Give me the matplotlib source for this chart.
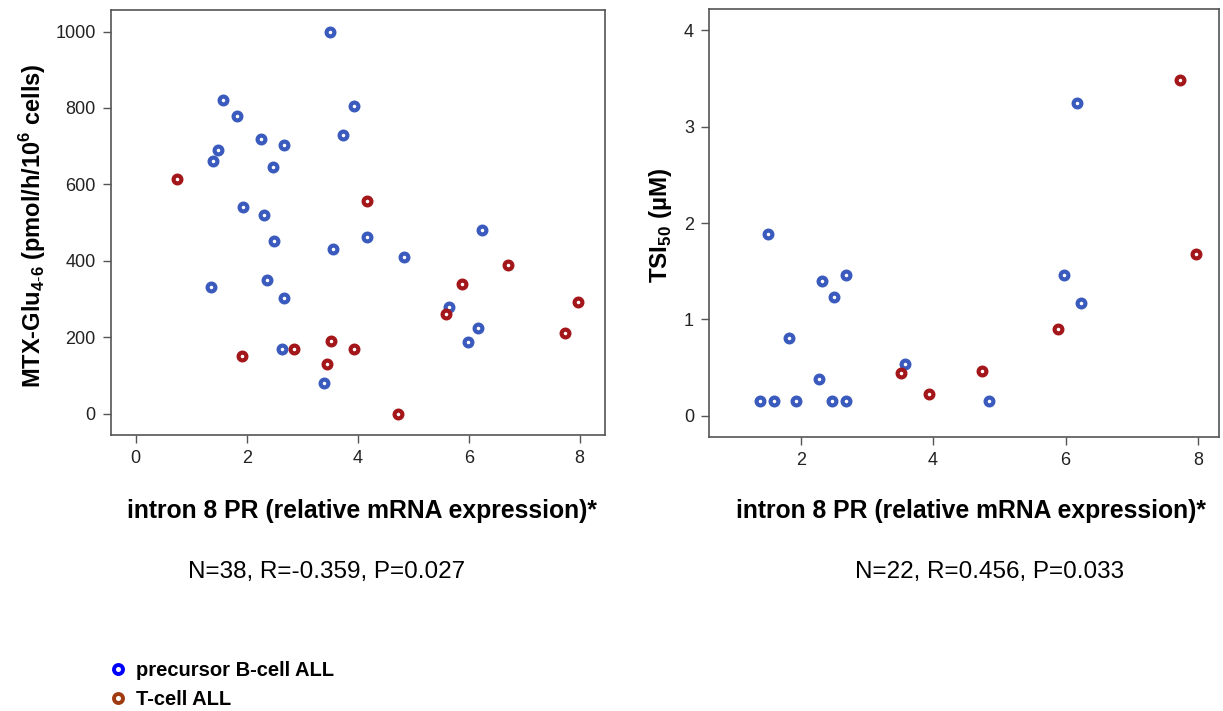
import matplotlib
matplotlib.use("Agg")
import matplotlib.pyplot as plt
from matplotlib.lines import Line2D

plt.rcParams['font.family'] = ['Liberation Sans', 'DejaVu Sans']
plt.rcParams['mathtext.fontset'] = 'custom'
plt.rcParams['mathtext.rm'] = 'Liberation Sans'
plt.rcParams['mathtext.bf'] = 'Liberation Sans:bold'

# left panel: MTX-Glu4-6 vs intron 8 PR
b_left_x = [3.50, 1.58, 3.94, 1.82, 3.74, 2.26, 2.68, 1.49, 1.39, 2.47, 1.93, 2.31, 2.50,
            4.16, 3.56, 6.24, 4.84, 1.35, 2.36, 2.68, 5.65, 6.16, 5.98, 2.63, 3.39]
b_left_y = [998, 821, 806, 778, 730, 718, 703, 690, 661, 646, 540, 520, 452,
            461, 430, 480, 411, 331, 350, 303, 280, 224, 188, 170, 80]
t_left_x = [0.75, 4.17, 6.71, 5.88, 7.97, 5.59, 7.73, 3.52, 2.86, 3.94, 1.91, 3.45, 4.73]
t_left_y = [615, 557, 390, 340, 291, 260, 211, 190, 170, 169, 150, 130, 0]

# right panel: TSI50 vs intron 8 PR
b_right_x = [1.39, 1.59, 1.93, 2.48, 2.68, 4.84, 1.50, 1.82, 2.27, 2.32, 2.50, 2.68,
             3.57, 6.17, 5.98, 6.24]
b_right_y = [0.15, 0.15, 0.15, 0.15, 0.15, 0.15, 1.885, 0.81, 0.38, 1.40, 1.23, 1.46,
             0.54, 3.25, 1.46, 1.17]
t_right_x = [3.52, 3.94, 4.74, 5.89, 7.73, 7.97]
t_right_y = [0.44, 0.23, 0.47, 0.90, 3.49, 1.68]

stats_left = "N=38, R=-0.359, P=0.027"
stats_right = "N=22, R=0.456, P=0.033"
xlabel = "intron 8 PR (relative mRNA expression)*"

BLUE = "#3a5bbd"
RED = "#a3161a"
SPINE = "#555555"
W, H = 1223, 711


def style_axes(ax):
    for s in ax.spines.values():
        s.set_color(SPINE)
        s.set_linewidth(1.2)
    ax.tick_params(direction='out', length=6, width=1, color=SPINE, pad=5,
                   labelsize=13, labelcolor='#222222')


def points(ax, x, y, color):
    ax.plot(x, y, 'o', ls='none', markersize=5.6, markerfacecolor='white',
            markeredgecolor=color, markeredgewidth=3.0)


fig = plt.figure(figsize=(12.23, 7.11), dpi=100)

ax1 = fig.add_axes([0.0908, 0.3882, 0.4039, 0.598])
points(ax1, b_left_x, b_left_y, BLUE)
points(ax1, t_left_x, t_left_y, RED)
ax1.set_xlim(-0.445, 8.456)
ax1.set_ylim(-56, 1057)
ax1.set_xticks([0, 2, 4, 6, 8])
ax1.set_yticks([0, 200, 400, 600, 800, 1000])
style_axes(ax1)

ax2 = fig.add_axes([0.580, 0.3854, 0.4168, 0.6016])
points(ax2, b_right_x, b_right_y, BLUE)
points(ax2, t_right_x, t_right_y, RED)
ax2.set_xlim(0.62, 8.32)
ax2.set_ylim(-0.22, 4.22)
ax2.set_xticks([2, 4, 6, 8])
ax2.set_yticks([0, 1, 2, 3, 4])
style_axes(ax2)

# y labels
fig.text(33 / W, 1 - 226 / H, r"MTX-Glu$_{\mathbf{4\text{-}6}}$ (pmol/h/10$^{\mathbf{6}}$ cells)",
         rotation=90, ha='center', va='center', fontsize=17, fontweight='bold')
fig.text(660 / W, 1 - 225 / H, "TSI$_{\\mathbf{50}}$ (µM)",
         rotation=90, ha='center', va='center', fontsize=17.5, fontweight='bold')

# x labels and stats lines
fig.text(362 / W, 1 - 511 / H, xlabel, ha='center', va='center',
         fontsize=17.8, fontweight='bold')
fig.text(971 / W, 1 - 511 / H, xlabel, ha='center', va='center',
         fontsize=17.8, fontweight='bold')
fig.text(327 / W, 1 - 572 / H, stats_left, ha='center', va='center', fontsize=17.5)
fig.text(990 / W, 1 - 572 / H, stats_right, ha='center', va='center', fontsize=17.5)

# legend
handles = [
    Line2D([], [], marker='o', ls='none', markersize=6.5, markerfacecolor='white',
           markeredgecolor='#0000ff', markeredgewidth=2.8, label='precursor B-cell ALL'),
    Line2D([], [], marker='o', ls='none', markersize=6.5, markerfacecolor='white',
           markeredgecolor='#a03a10', markeredgewidth=2.8, label='T-cell ALL'),
]
fig.legend(handles=handles, loc='upper left', bbox_to_anchor=(0.082, 1 - 651 / H),
           frameon=False, handletextpad=0.45, labelspacing=0.5, borderpad=0,
           handlelength=0.8, prop={'weight': 'bold', 'size': 14.5})

fig.savefig("out.png", dpi=100)
